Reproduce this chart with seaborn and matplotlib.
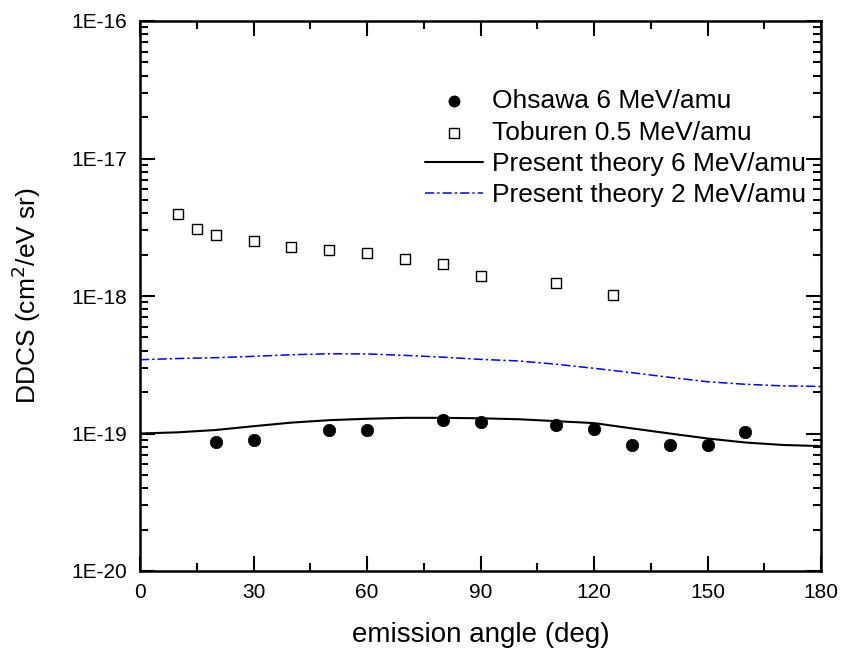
import numpy as np
import pandas as pd
import matplotlib
matplotlib.use("Agg")
import matplotlib.pyplot as plt
import seaborn as sns
from matplotlib.ticker import FixedLocator, FixedFormatter, LogLocator, NullFormatter, MultipleLocator

# ---- data ----
ohsawa_angle = [20, 30, 50, 60, 80, 90, 110, 120, 130, 140, 150, 160]
ohsawa_ddcs = [0.863e-19, 0.89e-19, 1.055e-19, 1.055e-19, 1.25e-19, 1.21e-19,
               1.15e-19, 1.07e-19, 0.825e-19, 0.825e-19, 0.82e-19, 1.02e-19]

toburen_angle = [10, 15, 20, 30, 40, 50, 60, 70, 80, 90, 110, 125]
toburen_ddcs = [3.97e-18, 3.09e-18, 2.79e-18, 2.52e-18, 2.28e-18, 2.15e-18,
                2.05e-18, 1.87e-18, 1.70e-18, 1.40e-18, 1.25e-18, 1.02e-18]

theory_angle = [0, 10, 20, 30, 40, 50, 60, 70, 80, 90, 100, 110, 120, 130, 140, 150, 160, 170, 180]
theory6_ddcs = [1.0e-19, 1.02e-19, 1.06e-19, 1.13e-19, 1.20e-19, 1.25e-19, 1.28e-19, 1.30e-19,
                1.30e-19, 1.29e-19, 1.27e-19, 1.23e-19, 1.19e-19, 1.09e-19, 1.0e-19, 0.92e-19,
                0.86e-19, 0.825e-19, 0.81e-19]
theory2_ddcs = [3.44e-19, 3.51e-19, 3.56e-19, 3.64e-19, 3.74e-19, 3.80e-19, 3.79e-19, 3.70e-19,
                3.59e-19, 3.46e-19, 3.37e-19, 3.19e-19, 2.98e-19, 2.77e-19, 2.56e-19, 2.38e-19,
                2.28e-19, 2.22e-19, 2.20e-19]

x_ticks = [0, 30, 60, 90, 120, 150, 180]
y_ticks = [1e-20, 1e-19, 1e-18, 1e-17, 1e-16]
y_tick_labels = ["1E-20", "1E-19", "1E-18", "1E-17", "1E-16"]

legend_labels = ["Ohsawa 6 MeV/amu", "Toburen 0.5 MeV/amu",
                 "Present theory 6 MeV/amu", "Present theory 2 MeV/amu"]

# ---- plot ----
sns.set_style("ticks")
plt.rcParams["font.family"] = ["Liberation Sans", "DejaVu Sans"]
plt.rcParams["text.color"] = "black"
plt.rcParams["axes.labelcolor"] = "black"

fig = plt.figure(figsize=(8.41, 6.48), dpi=100)
ax = fig.add_axes([140 / 841, 1 - 571 / 648, 681 / 841, 550 / 648])

df_o = pd.DataFrame({"angle": ohsawa_angle, "ddcs": ohsawa_ddcs})
df_t = pd.DataFrame({"angle": toburen_angle, "ddcs": toburen_ddcs})
df_th = pd.DataFrame({"angle": theory_angle, "t6": theory6_ddcs, "t2": theory2_ddcs})

ax.set_yscale("log")

sns.scatterplot(data=df_o, x="angle", y="ddcs", ax=ax, marker="o", s=80,
                color="black", edgecolor="black", linewidth=0.5,
                label=legend_labels[0], zorder=3)
sns.scatterplot(data=df_t, x="angle", y="ddcs", ax=ax, marker="s", s=55,
                facecolor="white", edgecolor="black", linewidth=1.0,
                label=legend_labels[1], zorder=3)
sns.lineplot(data=df_th, x="angle", y="t6", ax=ax, color="black", linewidth=1.5,
             label=legend_labels[2], zorder=2)
sns.lineplot(data=df_th, x="angle", y="t2", ax=ax, color="#0000ff", linewidth=1.1,
             linestyle=(0, (6, 2, 1.5, 2)), label=legend_labels[3], zorder=2)

ax.set_xlim(0, 180)
ax.set_ylim(1e-20, 1e-16)

ax.xaxis.set_major_locator(FixedLocator(x_ticks))
ax.xaxis.set_minor_locator(MultipleLocator(15))
ax.xaxis.set_major_formatter(FixedFormatter([str(v) for v in x_ticks]))

ax.yaxis.set_major_locator(FixedLocator(y_ticks))
ax.yaxis.set_major_formatter(FixedFormatter(y_tick_labels))
ax.yaxis.set_minor_locator(LogLocator(base=10, subs=np.arange(2, 10), numticks=20))
ax.yaxis.set_minor_formatter(NullFormatter())

ax.tick_params(which="both", direction="in", top=True, right=True, width=1.5,
               colors="black", labelcolor="black")
ax.tick_params(which="major", length=11, labelsize=15)
ax.tick_params(axis="x", which="major", pad=9)
ax.tick_params(axis="y", which="major", pad=9.5)
ax.tick_params(which="minor", length=6)

for sp in ax.spines.values():
    sp.set_linewidth(1.8)
    sp.set_color("black")
    sp.set_visible(True)

ax.set_xlabel("emission angle (deg)", fontsize=20, labelpad=14, color="black")
ax.set_ylabel(r"DDCS (cm$^2$/eV sr)", fontsize=19, labelpad=20, color="black")

leg = ax.legend(loc="upper left", bbox_to_anchor=(0.4185, 0.876), frameon=False,
                fontsize=19, handlelength=2.2, handletextpad=0.34, labelspacing=0.28,
                borderaxespad=0.0, borderpad=0.0, markerscale=0.9, labelcolor="black")

fig.savefig("out.png", dpi=100)
